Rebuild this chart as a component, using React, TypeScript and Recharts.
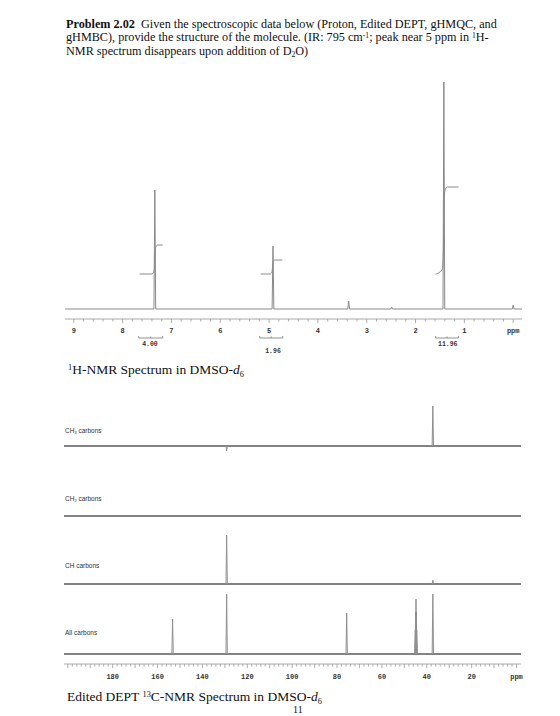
import React from 'react';
import { LineChart, Line, XAxis, YAxis, ReferenceLine, ReferenceDot } from 'recharts';

// ---- 1H NMR (ppm, height in plot units) ----
const H_PEAKS = [
  { ppm: 7.34, h: 119 },
  { ppm: 4.92, h: 63 },
  { ppm: 3.37, h: 8 },
  { ppm: 2.49, h: 2 },
  { ppm: 1.42, h: 227 },
  { ppm: 0.0, h: 4 },
];
const H_RANGE = [9.18, -0.18];
const H_MAJOR = [9, 8, 7, 6, 5, 4, 3, 2, 1, 0];

// integral traces
const H_INT_1 = [
  [7.65, 35], [7.42, 35], [7.37, 36], [7.345, 42], [7.335, 56], [7.32, 62], [7.28, 64], [7.18, 64],
];
const H_INT_2 = [
  [5.17, 35], [4.98, 35], [4.94, 37], [4.925, 44], [4.91, 48], [4.87, 49], [4.73, 49],
];
const H_INT_3 = [
  [1.59, 35], [1.5, 37], [1.45, 40], [1.43, 60], [1.42, 100], [1.4, 118], [1.35, 122], [1.12, 122],
];

const H_INTEGRALS = [
  { label: '4.00', from: 7.67, to: 7.18, at: 7.44, ly: -35 },
  { label: '1.96', from: 5.19, to: 4.72, at: 4.92, ly: -42 },
  { label: '11.96', from: 1.59, to: 1.12, at: 1.34, ly: -35 },
];

// ---- 13C edited DEPT (ppm, height) ----
const C_RANGE = [201.7, -2];
const CH3_PEAKS = [
  { ppm: 129.2, h: -5 },
  { ppm: 37.3, h: 40 },
];
const CH2_PEAKS: { ppm: number; h: number }[] = [];
const CH_PEAKS = [
  { ppm: 129.2, h: 49 },
  { ppm: 37.3, h: 4 },
];
const ALL_PEAKS = [
  { ppm: 153.3, h: 35 },
  { ppm: 129.2, h: 60 },
  { ppm: 75.7, h: 41 },
  { ppm: 45.1, h: 24 },
  { ppm: 44.95, h: 42 },
  { ppm: 44.8, h: 55 },
  { ppm: 44.65, h: 42 },
  { ppm: 44.5, h: 24 },
  { ppm: 37.3, h: 60 },
];
const C_MAJOR = [180, 160, 140, 120, 100, 80, 60, 40, 20, 0];

const GREY = '#8a8a8a';
const MONO = '"Liberation Mono", monospace';
const SANS = '"Liberation Sans", Arial, sans-serif';

// spectrum with baseline between peaks
const spectrum = (peaks: { ppm: number; h: number }[], range: number[], hw: number) => {
  const pts: { ppm: number; v: number | null }[] = [{ ppm: range[0], v: 0 }];
  peaks.forEach((p) => {
    pts.push({ ppm: p.ppm + hw, v: 0 }, { ppm: p.ppm, v: p.h }, { ppm: p.ppm - hw, v: 0 });
  });
  pts.push({ ppm: range[1], v: 0 });
  return pts;
};

// peaks only, gaps in between (baseline drawn on its own)
const sticks = (peaks: { ppm: number; h: number }[], hw: number) => {
  const pts: { ppm: number; v: number | null }[] = [];
  peaks.forEach((p) => {
    pts.push({ ppm: p.ppm + hw, v: 0 }, { ppm: p.ppm, v: p.h }, { ppm: p.ppm - hw, v: 0 }, { ppm: p.ppm - hw * 1.2, v: null });
  });
  return pts;
};

const toPts = (arr: number[][]) => arr.map(([ppm, v]) => ({ ppm, v }));

const hTicks: number[] = [];
for (let i = 45; i >= 0; i--) hTicks.push(Math.round(i * 2) / 10);

const cTicks: number[] = [];
for (let i = 100; i >= 0; i--) cTicks.push(i * 2);

const HTick = (props: any) => {
  const { x, y, payload } = props;
  const v = payload.value;
  const major = H_MAJOR.includes(v);
  return (
    <g>
      <line x1={x} x2={x} y1={y} y2={y + (major ? 4 : 2.5)} stroke="#999" strokeWidth={0.8} />
      {major && (
        <text x={x} y={y + 13.5} textAnchor="middle" fontSize={7} fontFamily={MONO} fontWeight="bold" fill="#333">
          {v === 0 ? 'ppm' : v}
        </text>
      )}
    </g>
  );
};

const CTick = (props: any) => {
  const { x, y, payload } = props;
  const v = payload.value;
  const major = C_MAJOR.includes(v);
  return (
    <g>
      <line x1={x} x2={x} y1={y} y2={y + (v % 10 === 0 ? 4 : 2.5)} stroke="#999" strokeWidth={0.8} />
      {major && (
        <text x={x} y={y + 15} textAnchor="middle" fontSize={7} fontFamily={MONO} fontWeight="bold" fill="#333">
          {v === 0 ? 'ppm' : v}
        </text>
      )}
    </g>
  );
};

const ProtonChart = () => {
  const data = spectrum(H_PEAKS, H_RANGE, 0.018);
  return (
    <LineChart width={560} height={360} margin={{ top: 80, right: 38, bottom: 0, left: 65 }}>
      <XAxis
        type="number"
        dataKey="ppm"
        domain={[H_RANGE[1], H_RANGE[0]]}
        reversed
        allowDataOverflow
        ticks={hTicks}
        interval={0}
        height={41}
        tickSize={0}
        tickMargin={0}
        tick={<HTick />}
        axisLine={{ stroke: '#aaa', strokeWidth: 1 }}
      />
      <YAxis hide type="number" domain={[-10, 229]} allowDataOverflow />
      <Line data={data} dataKey="v" stroke={GREY} strokeWidth={1} dot={false} isAnimationActive={false} type="linear" />
      {[H_INT_1, H_INT_2, H_INT_3].map((arr, i) => (
        <Line key={i} data={toPts(arr)} dataKey="v" stroke={GREY} strokeWidth={1} dot={false} isAnimationActive={false} type="monotone" />
      ))}
      {H_INTEGRALS.map((g) => (
        <React.Fragment key={g.label}>
          <ReferenceLine segment={[{ x: g.from, y: -29 }, { x: g.to, y: -29 }]} ifOverflow="visible" stroke="#777" strokeWidth={0.8} />
          <ReferenceLine segment={[{ x: g.from, y: -29 }, { x: g.from, y: -27 }]} ifOverflow="visible" stroke="#777" strokeWidth={0.8} />
          <ReferenceLine segment={[{ x: g.to, y: -29 }, { x: g.to, y: -27 }]} ifOverflow="visible" stroke="#777" strokeWidth={0.8} />
          <ReferenceLine segment={[{ x: (g.from + g.to) / 2, y: -29 }, { x: (g.from + g.to) / 2, y: -27.5 }]} ifOverflow="visible" stroke="#777" strokeWidth={0.8} />
          <ReferenceDot
            x={g.at}
            y={g.ly}
            r={0.1}
            fill="none"
            stroke="none"
            ifOverflow="visible"
            label={{ value: g.label, position: 'center', fontSize: 6.5, fontFamily: MONO, fontWeight: 'bold', fill: '#333' }}
          />
        </React.Fragment>
      ))}
    </LineChart>
  );
};

const Trace = ({ peaks, height, domain, axis }: { peaks: { ppm: number; h: number }[]; height: number; domain: number[]; axis?: boolean }) => {
  const base = [{ ppm: C_RANGE[0], v: 0 }, { ppm: C_RANGE[1], v: 0 }];
  return (
    <LineChart width={560} height={height} margin={{ top: 0, right: 39, bottom: 0, left: 64 }}>
      <XAxis
        type="number"
        dataKey="ppm"
        domain={[C_RANGE[1], C_RANGE[0]]}
        reversed
        allowDataOverflow
        hide={!axis}
        ticks={cTicks}
        interval={0}
        height={24}
        tickSize={0}
        tickMargin={0}
        tick={<CTick />}
        axisLine={{ stroke: '#aaa', strokeWidth: 1 }}
      />
      <YAxis hide type="number" domain={domain} allowDataOverflow />
      <Line data={base} dataKey="v" stroke="#5a5a5a" strokeWidth={1.4} dot={false} isAnimationActive={false} type="linear" />
      <Line data={sticks(peaks, 0.3)} dataKey="v" stroke="#8f8f8f" strokeWidth={1} dot={false} isAnimationActive={false} type="linear" connectNulls={false} />
    </LineChart>
  );
};

const abs = (top: number, extra: React.CSSProperties = {}): React.CSSProperties => ({ position: 'absolute', left: 0, top, ...extra });
const sup: React.CSSProperties = { fontSize: '0.62em', position: 'relative', top: '-0.45em' };
const sub: React.CSSProperties = { fontSize: '0.62em', position: 'relative', top: '0.3em' };

const DeptLabel = ({ top, children }: { top: number; children: React.ReactNode }) => (
  <div style={{ position: 'absolute', left: 65, top, fontFamily: SANS, fontSize: 6.5, color: '#333', whiteSpace: 'nowrap' }}>{children}</div>
);

export default function App() {
  return (
    <div style={{ position: 'absolute', left: 0, top: 0, width: 560, height: 716, overflow: 'hidden', background: '#fff', fontFamily: '"Liberation Serif", "Times New Roman", serif', color: '#111' }}>
      <div style={{ position: 'absolute', left: 66, top: 18, fontSize: 12.2, lineHeight: '13px', whiteSpace: 'nowrap' }}>
        <div><b>Problem 2.02</b>&nbsp; Given the spectroscopic data below (Proton, Edited DEPT, gHMQC, and</div>
        <div>
          gHMBC), provide the structure of the molecule. (IR: 795 cm<span style={sup}>-1</span>; peak near 5 ppm in <span style={sup}>1</span>H-
        </div>
        <div>
          NMR spectrum disappears upon addition of D<span style={sub}>2</span>O)
        </div>
      </div>

      <div style={abs(0)}>
        <ProtonChart />
      </div>

      <div style={{ position: 'absolute', left: 68, top: 362, fontSize: 13.5, lineHeight: '15px', whiteSpace: 'nowrap' }}>
        <span style={sup}>1</span>H-NMR Spectrum in DMSO-<i>d</i><span style={sub}>6</span>
      </div>

      <DeptLabel top={427}>CH<span style={sub}>3</span> carbons</DeptLabel>
      <div style={abs(400)}>
        <Trace peaks={CH3_PEAKS} height={58} domain={[-12, 46]} />
      </div>

      <DeptLabel top={495}>CH<span style={sub}>2</span> carbons</DeptLabel>
      <div style={abs(500)}>
        <Trace peaks={CH2_PEAKS} height={22} domain={[-6, 16]} />
      </div>

      <DeptLabel top={562}>CH carbons</DeptLabel>
      <div style={abs(528)}>
        <Trace peaks={CH_PEAKS} height={62} domain={[-6, 56]} />
      </div>

      <DeptLabel top={629}>All carbons</DeptLabel>
      <div style={abs(588)}>
        <Trace peaks={ALL_PEAKS} height={100} domain={[-10, 66]} axis />
      </div>

      <div style={{ position: 'absolute', left: 67, top: 689, fontSize: 13.5, lineHeight: '15px', whiteSpace: 'nowrap' }}>
        Edited DEPT <span style={sup}>13</span>C-NMR Spectrum in DMSO-<i>d</i><span style={sub}>6</span>
      </div>

      <div style={{ position: 'absolute', left: 293, top: 705, fontSize: 10, lineHeight: '10px' }}>11</div>
    </div>
  );
}
